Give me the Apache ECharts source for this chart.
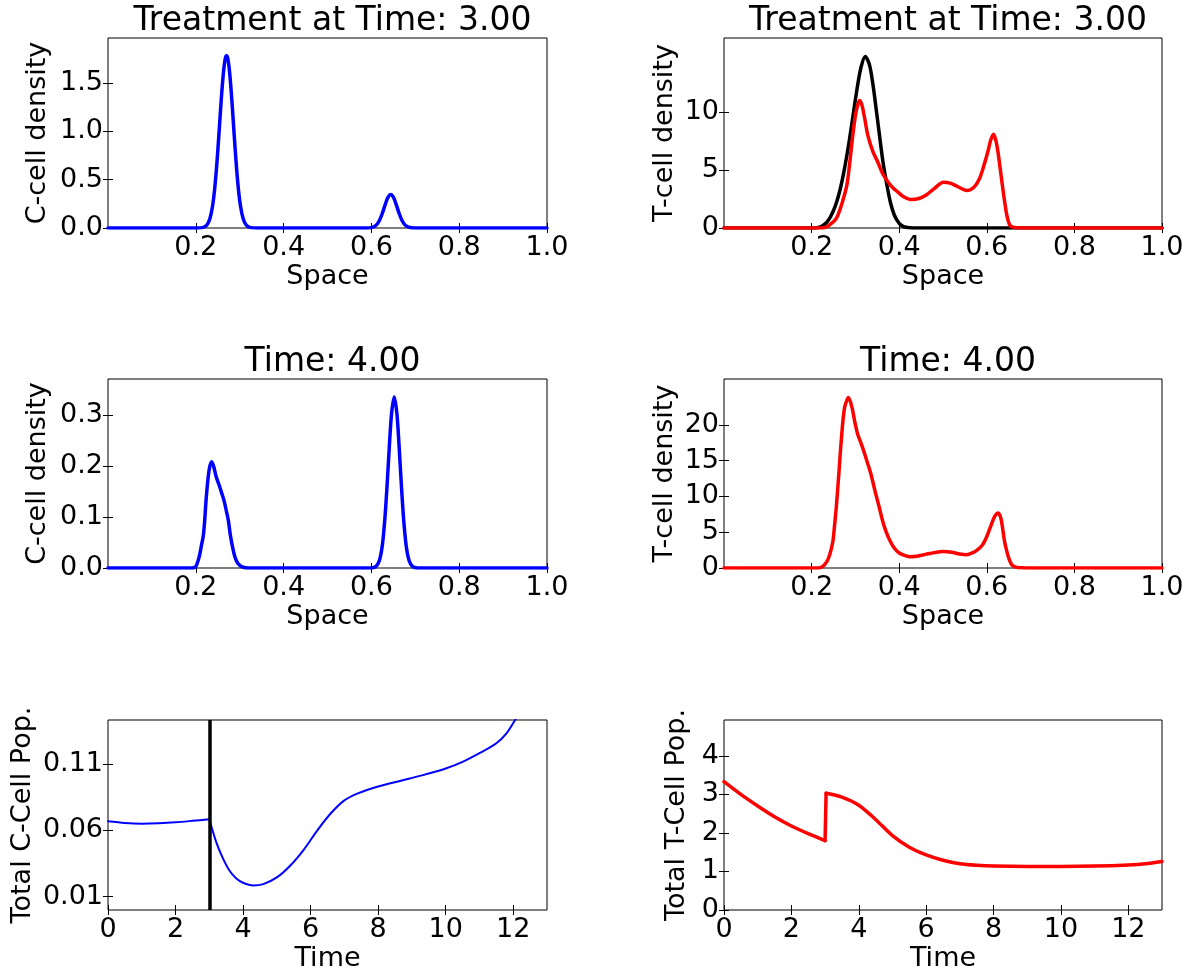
<!DOCTYPE html>
<html>
<head>
<meta charset="utf-8">
<script src="https://cdn.jsdelivr.net/npm/echarts@6/dist/echarts.min.js"></script>
<style>
html,body{margin:0;padding:0;background:#fff;}
#chart{width:1188px;height:973px;}
</style>
</head>
<body>
<div id="chart"></div>
<script>
// ---------------- DATA ----------------
const treatmentTime = 3.0;

// Panel 1: C-cell density at treatment time 3.00
const space_C_t3 = [0, 0.2, 0.215, 0.225, 0.232, 0.238, 0.243, 0.248, 0.253, 0.258, 0.263, 0.267, 0.270, 0.273, 0.277, 0.282, 0.287, 0.292, 0.297, 0.302, 0.308, 0.315, 0.325, 0.34, 0.59, 0.60, 0.61, 0.618, 0.625, 0.632, 0.638, 0.644, 0.650, 0.656, 0.663, 0.670, 0.678, 0.688, 0.70, 0.72, 1.0];
const cDensity_t3 = [0, 0, 0.004, 0.029, 0.095, 0.223, 0.405, 0.667, 0.99, 1.33, 1.61, 1.75, 1.78, 1.75, 1.61, 1.33, 0.99, 0.667, 0.405, 0.223, 0.095, 0.029, 0.004, 0, 0.001, 0.0044, 0.026, 0.075, 0.153, 0.25, 0.318, 0.345, 0.318, 0.25, 0.153, 0.075, 0.026, 0.0044, 0.001, 0, 0];

// Panel 2: T-cell density at treatment time 3.00 (black = treatment, red = T cells)
const space_T_black = [0, 0.20, 0.215, 0.225, 0.235, 0.245, 0.255, 0.265, 0.275, 0.285, 0.295, 0.305, 0.313, 0.3224, 0.332, 0.340, 0.348, 0.355, 0.363, 0.372, 0.380, 0.389, 0.400, 0.41, 0.425, 0.44, 1.0];
const tDensity_black = [0, 0, 0.05, 0.2, 0.5, 1.1, 2.0, 3.3, 5.1, 7.3, 9.8, 12.3, 13.9, 14.8, 14.1, 12.4, 10.1, 8.0, 5.7, 3.7, 2.2, 1.1, 0.4, 0.12, 0.02, 0, 0];
const space_T_red3 = [0, 0.22, 0.235, 0.245, 0.253, 0.26, 0.27, 0.2805, 0.287, 0.294, 0.30, 0.305, 0.3094, 0.315, 0.321, 0.3284, 0.34, 0.351, 0.362, 0.374, 0.385, 0.397, 0.41, 0.4275, 0.445, 0.4617, 0.48, 0.501, 0.518, 0.534, 0.5545, 0.57, 0.5835, 0.595, 0.6025, 0.609, 0.6155, 0.621, 0.625, 0.631, 0.636, 0.641, 0.645, 0.649, 0.653, 0.66, 0.67, 0.68, 1.0];
const tDensity_red3 = [0, 0, 0.1, 0.4, 0.65, 1.1, 2.2, 3.7, 5.6, 8.0, 9.7, 10.6, 11.0, 10.6, 9.5, 8.0, 6.6, 5.7, 4.7, 4.0, 3.5, 3.1, 2.7, 2.46, 2.55, 2.85, 3.4, 3.95, 3.85, 3.56, 3.24, 3.5, 4.28, 5.6, 6.6, 7.6, 8.1, 7.5, 6.7, 5.0, 3.55, 2.2, 1.24, 0.6, 0.23, 0.07, 0.02, 0, 0];

// Panel 3: C-cell density at time 4.00
const space_C_t4 = [0, 0.19, 0.2, 0.208, 0.213, 0.217, 0.22, 0.223, 0.227, 0.231, 0.236, 0.241, 0.245, 0.249, 0.254, 0.2588, 0.263, 0.266, 0.27, 0.274, 0.279, 0.284, 0.289, 0.295, 0.302, 0.31, 0.32, 0.60, 0.61, 0.618, 0.625, 0.631, 0.636, 0.641, 0.646, 0.652, 0.658, 0.663, 0.668, 0.673, 0.679, 0.686, 0.694, 0.705, 0.72, 1.0];
const cDensity_t4 = [0, 0, 0.003, 0.023, 0.045, 0.0625, 0.09, 0.128, 0.168, 0.195, 0.208, 0.198, 0.183, 0.172, 0.16, 0.147, 0.136, 0.126, 0.11, 0.094, 0.0625, 0.04, 0.022, 0.01, 0.004, 0.001, 0, 0.0002, 0.0027, 0.014, 0.045, 0.1, 0.166, 0.24, 0.303, 0.335, 0.303, 0.24, 0.166, 0.1, 0.045, 0.014, 0.0027, 0.0002, 0, 0];

// Panel 4: T-cell density at time 4.00
const space_T_t4 = [0, 0.215, 0.225, 0.2348, 0.242, 0.2485, 0.2525, 0.2562, 0.262, 0.2676, 0.275, 0.2843, 0.2927, 0.299, 0.3056, 0.313, 0.3209, 0.328, 0.336, 0.345, 0.355, 0.362, 0.370, 0.379, 0.389, 0.40, 0.412, 0.4236, 0.44, 0.46, 0.48, 0.4997, 0.52, 0.538, 0.553, 0.567, 0.58, 0.591, 0.60, 0.610, 0.618, 0.626, 0.632, 0.636, 0.640, 0.645, 0.649, 0.653, 0.6575, 0.663, 0.67, 0.68, 0.69, 1.0];
const tDensity_t4 = [0, 0, 0.2, 0.88, 2.0, 3.7, 6.0, 8.35, 13.0, 17.7, 22.3, 23.8, 22.3, 20.3, 18.6, 17.4, 16.0, 14.6, 13.0, 10.7, 8.35, 6.6, 5.08, 3.8, 2.75, 2.1, 1.75, 1.58, 1.65, 1.9, 2.15, 2.3, 2.2, 1.95, 1.85, 2.1, 2.6, 3.3, 4.4, 6.0, 7.2, 7.7, 7.0, 5.6, 3.9, 2.5, 1.6, 0.9, 0.42, 0.2, 0.08, 0.02, 0, 0];

// Panel 5: total C-cell population over time
const time_C = [0, 0.5, 1.0, 1.5, 2.0, 2.5, 3.0, 3.2, 3.4, 3.6, 3.8, 4.0, 4.3, 4.6, 5.0, 5.4, 5.8, 6.2, 6.6, 7.0, 7.4, 8.0, 8.7, 9.3, 10.0, 10.5, 11.0, 11.5, 11.8, 12.05, 12.1];
const totalC = [0.0668, 0.0655, 0.065, 0.0653, 0.066, 0.0671, 0.0683, 0.0515, 0.039, 0.0295, 0.0237, 0.0205, 0.0185, 0.0195, 0.0245, 0.0335, 0.0455, 0.060, 0.0728, 0.0825, 0.0878, 0.093, 0.0975, 0.1013, 0.1065, 0.1115, 0.118, 0.1255, 0.133, 0.1428, 0.145];

// Panel 6: total T-cell population over time
const time_T = [0, 0.5, 1.0, 1.5, 2.0, 2.5, 3.0, 3.03, 3.5, 4.0, 4.5, 5.0, 5.5, 6.0, 6.5, 7.0, 7.5, 8.0, 9.0, 10.0, 11.0, 12.0, 12.5, 13.0];
const totalT = [3.33, 3.0, 2.7, 2.42, 2.18, 1.98, 1.8, 3.03, 2.93, 2.72, 2.35, 1.93, 1.63, 1.43, 1.29, 1.2, 1.16, 1.14, 1.13, 1.13, 1.14, 1.17, 1.2, 1.26];

// Tick labels
const spaceTicks = [0.2, 0.4, 0.6, 0.8, 1.0];
const timeTicks = [0, 2, 4, 6, 8, 10, 12];
const yTicks1 = [0, 0.5, 1.0, 1.5];
const yTicks2 = [0, 5, 10];
const yTicks3 = [0, 0.1, 0.2, 0.3];
const yTicks4 = [0, 5, 10, 15, 20];
const yTicks5 = [0.01, 0.06, 0.11];
const yTicks6 = [0, 1, 2, 3, 4];

const titles = ['Treatment at Time: 3.00', 'Treatment at Time: 3.00', 'Time: 4.00', 'Time: 4.00', '', ''];

// ---------------- CHART ----------------
const FONT = 'DejaVu Sans';
const TICK_FS = 27, NAME_FS = 27, TITLE_FS = 33;

const zip = (xs, ys) => xs.map((x, i) => [x, ys[i]]);

const grids = [
  {left: 108, top: 38, width: 439, height: 190},
  {left: 724, top: 38, width: 438, height: 190},
  {left: 108, top: 379, width: 439, height: 189},
  {left: 724, top: 379, width: 438, height: 189},
  {left: 108, top: 720, width: 439, height: 190},
  {left: 724, top: 720, width: 438, height: 190}
];

const panels = [
  {x: [0, 1], xt: spaceTicks, xf: v => v.toFixed(1), xName: 'Space', y: [0, 1.964], yt: yTicks1, yf: v => v.toFixed(1), yName: 'C-cell density', yGap: 57},
  {x: [0, 1], xt: spaceTicks, xf: v => v.toFixed(1), xName: 'Space', y: [0, 16.4], yt: yTicks2, yf: v => String(v), yName: 'T-cell density', yGap: 46},
  {x: [0, 1], xt: spaceTicks, xf: v => v.toFixed(1), xName: 'Space', y: [0, 0.37], yt: yTicks3, yf: v => v.toFixed(1), yName: 'C-cell density', yGap: 57},
  {x: [0, 1], xt: spaceTicks, xf: v => v.toFixed(1), xName: 'Space', y: [0, 26.4], yt: yTicks4, yf: v => String(v), yName: 'T-cell density', yGap: 46},
  {x: [0, 13], xt: timeTicks, xf: v => String(v), xName: 'Time', y: [0, 0.143], yt: yTicks5, yf: v => v.toFixed(2), yName: 'Total C-Cell Pop.', yGap: 72},
  {x: [0, 13], xt: timeTicks, xf: v => String(v), xName: 'Time', y: [0, 4.93], yt: yTicks6, yf: v => String(v), yName: 'Total T-Cell Pop.', yGap: 34}
];

const txt = (fs) => ({fontFamily: FONT, fontSize: fs, color: '#000'});
const tickStyle = (vals) => ({show: true, inside: true, length: 5, customValues: vals, lineStyle: {color: '#000', width: 1}});

const xAxis = [], yAxis = [], title = [];
panels.forEach((p, i) => {
  const g = grids[i];
  xAxis.push({
    type: 'value', gridIndex: i, position: 'bottom', min: p.x[0], max: p.x[1],
    axisLine: {show: false}, splitLine: {show: false},
    axisTick: tickStyle(p.xt),
    axisLabel: Object.assign({customValues: p.xt, margin: 6, formatter: p.xf}, txt(TICK_FS)),
    name: p.xName, nameLocation: 'middle', nameGap: 35, nameTextStyle: txt(NAME_FS)
  });
  xAxis.push({
    type: 'value', gridIndex: i, position: 'top', min: p.x[0], max: p.x[1],
    axisLine: {show: false}, splitLine: {show: false},
    axisTick: tickStyle(p.xt), axisLabel: {show: false}
  });
  yAxis.push({
    type: 'value', gridIndex: i, position: 'left', min: p.y[0], max: p.y[1],
    axisLine: {show: false}, splitLine: {show: false},
    axisTick: tickStyle(p.yt),
    axisLabel: Object.assign({customValues: p.yt, margin: 5, formatter: p.yf}, txt(TICK_FS)),
    name: p.yName, nameLocation: 'middle', nameGap: p.yGap, nameRotate: 90, nameTextStyle: txt(NAME_FS)
  });
  yAxis.push({
    type: 'value', gridIndex: i, position: 'right', min: p.y[0], max: p.y[1],
    axisLine: {show: false}, splitLine: {show: false},
    axisTick: tickStyle(p.yt), axisLabel: {show: false}
  });
  if (titles[i]) {
    title.push({
      text: titles[i], left: g.left + g.width / 2, top: g.top - 38, textAlign: 'center',
      textStyle: {fontFamily: FONT, fontSize: TITLE_FS, fontWeight: 'normal', color: '#000'}
    });
  }
});

const lineSeries = (i, data, color, width, smooth) => ({
  type: 'line', xAxisIndex: 2 * i, yAxisIndex: 2 * i, data: data,
  showSymbol: false, symbol: 'none', smooth: smooth, clip: true,
  lineStyle: {color: color, width: width, cap: 'round', join: 'round'}, z: 3
});

const preC = time_C.map((t, k) => [t, totalC[k]]).filter(d => d[0] <= treatmentTime);
const postC = time_C.map((t, k) => [t, totalC[k]]).filter(d => d[0] >= treatmentTime);
const preT = time_T.map((t, k) => [t, totalT[k]]).filter(d => d[0] <= treatmentTime);
const postT = time_T.map((t, k) => [t, totalT[k]]).filter(d => d[0] > treatmentTime);
const jumpT = [preT[preT.length - 1], postT[0]];

const series = [
  lineSeries(0, zip(space_C_t3, cDensity_t3), '#0000ff', 3.5, 0.3),
  lineSeries(1, zip(space_T_black, tDensity_black), '#000000', 3.5, 0.3),
  lineSeries(1, zip(space_T_red3, tDensity_red3), '#ff0000', 3.5, 0.3),
  lineSeries(2, zip(space_C_t4, cDensity_t4), '#0000ff', 3.5, 0.3),
  lineSeries(3, zip(space_T_t4, tDensity_t4), '#ff0000', 3.5, 0.3),
  lineSeries(4, preC, '#0000ff', 2, 0.3),
  lineSeries(4, postC, '#0000ff', 2, 0.3),
  lineSeries(5, preT, '#ff0000', 3.5, 0.3),
  lineSeries(5, jumpT, '#ff0000', 3.5, false),
  lineSeries(5, postT, '#ff0000', 3.5, 0.3),
  {
    type: 'line', xAxisIndex: 8, yAxisIndex: 8, data: [],
    markLine: {
      silent: true, symbol: ['none', 'none'], label: {show: false},
      lineStyle: {color: '#000', width: 3.5, type: 'solid'},
      data: [{xAxis: treatmentTime}]
    }, z: 4
  }
];

const chart = echarts.init(document.getElementById('chart'), null, {renderer: 'canvas'});
chart.setOption({
  animation: false,
  backgroundColor: '#fff',
  title: title,
  grid: grids.map(g => Object.assign({show: true, borderColor: '#000', borderWidth: 1, backgroundColor: 'transparent', containLabel: false}, g)),
  xAxis: xAxis,
  yAxis: yAxis,
  series: series
});
</script>
</body>
</html>
